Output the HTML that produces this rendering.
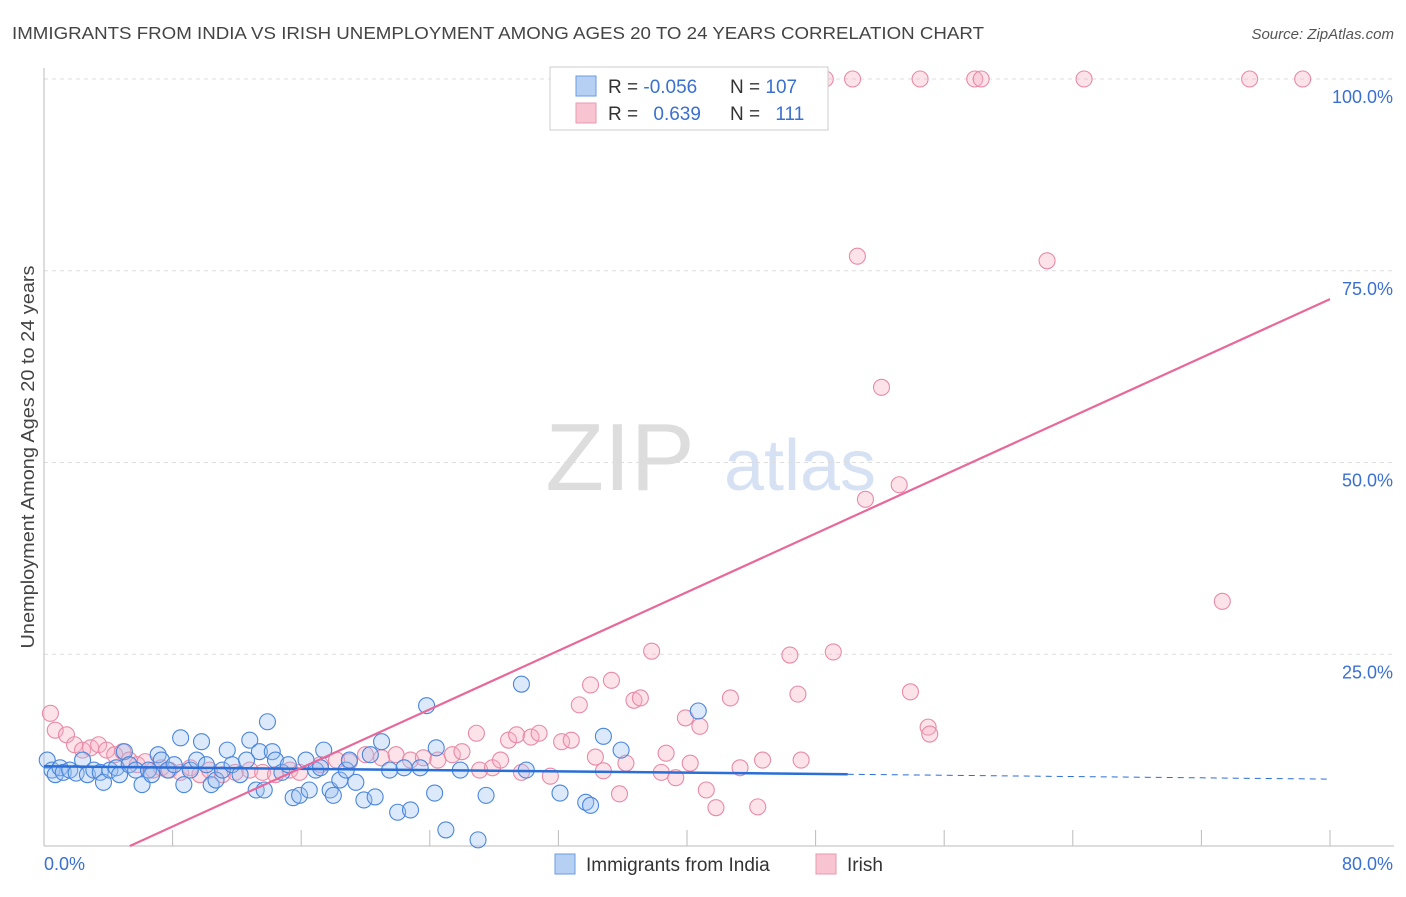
<!DOCTYPE html>
<html><head><meta charset="utf-8"><style>
body{margin:0;background:#fff;font-family:"Liberation Sans",sans-serif;}
svg text{font-family:"Liberation Sans",sans-serif;}
</style></head><body>
<svg id="chart" width="1406" height="892">
<text x="12" y="39" font-size="17.5" fill="#444" textLength="972" lengthAdjust="spacingAndGlyphs">IMMIGRANTS FROM INDIA VS IRISH UNEMPLOYMENT AMONG AGES 20 TO 24 YEARS CORRELATION CHART</text>
<text x="1394" y="39" font-size="15" fill="#555" font-style="italic" text-anchor="end">Source: ZipAtlas.com</text>
<text x="34" y="457" font-size="18" fill="#444" text-anchor="middle" textLength="383" lengthAdjust="spacingAndGlyphs" transform="rotate(-90 34 457)">Unemployment Among Ages 20 to 24 years</text>
<text x="620" y="490" font-size="96" fill="#ddd" font-family="Liberation Serif" text-anchor="middle">ZIP</text>
<text x="800" y="490" font-size="72" fill="#d6e2f4" text-anchor="middle">atlas</text>
<g id="grid"></g><g id="axes"></g><g id="pts"></g><g id="lines"></g>
<g>
<rect x="550" y="67" width="278" height="63" fill="#fff" stroke="#ccc"/>
<rect x="576" y="76" width="20" height="20" fill="#b6d0f4" stroke="#6a9be0"/>
<rect x="576" y="103" width="20" height="20" fill="#f8c4d2" stroke="#e89ab0"/>
<text x="608" y="93" font-size="19" fill="#333">R = <tspan fill="#3a70d0">-0.056</tspan></text>
<text x="730" y="93" font-size="19" fill="#333">N = <tspan fill="#3a70d0">107</tspan></text>
<text x="608" y="120" font-size="19" fill="#333">R = <tspan fill="#3a70d0" dx="10">0.639</tspan></text>
<text x="730" y="120" font-size="19" fill="#333">N = <tspan fill="#3a70d0" dx="10">111</tspan></text>
</g>
<g>
<rect x="555" y="854" width="20" height="20" fill="#b6d0f4" stroke="#6a9be0"/>
<text x="586" y="871" font-size="19" fill="#333">Immigrants from India</text>
<rect x="816" y="854" width="20" height="20" fill="#f8c4d2" stroke="#e89ab0"/>
<text x="847" y="871" font-size="19" fill="#333">Irish</text>
</g>
</svg>
<script>
const yTicks=[25,50,75,100];
const yTickLabels=["25.0%","50.0%","75.0%","100.0%"];
const blueX=[0.2,0.5,0.7,1.0,1.2,1.6,2.0,2.4,2.7,3.1,3.5,3.7,4.1,4.5,4.7,5.0,5.3,5.7,6.1,6.5,6.7,7.1,7.3,7.7,8.1,8.5,8.7,9.1,9.5,9.8,10.1,10.4,10.7,11.1,11.4,11.7,12.2,12.6,12.8,13.2,13.4,13.7,13.9,14.2,14.4,14.8,15.2,15.5,15.9,16.3,16.5,16.9,17.2,17.4,17.8,18.0,18.4,18.8,19.0,19.4,19.9,20.3,20.6,21.0,21.5,22.0,22.4,22.8,23.4,23.8,24.3,24.4,25.0,25.9,27.0,27.5,29.7,30.0,32.1,33.7,34.0,34.8,35.9,40.7];
const blueY=[11.2,9.9,9.3,10.2,9.6,9.9,9.5,11.2,9.3,9.9,9.6,8.3,9.9,10.2,9.3,12.3,10.6,9.9,8.0,9.9,9.3,11.9,11.2,9.9,10.6,14.1,8.0,9.9,11.2,13.6,10.6,8.0,8.6,9.9,12.5,10.6,9.3,11.2,13.8,7.3,12.3,7.3,16.2,12.3,11.2,9.6,10.6,6.3,6.6,11.2,7.3,9.9,10.2,12.5,7.3,6.6,8.6,9.9,11.2,8.3,6.0,11.9,6.4,13.6,9.9,4.4,10.2,4.7,10.2,18.3,6.9,12.8,2.1,9.9,0.8,6.6,21.1,9.9,6.9,5.7,5.3,14.3,12.5,17.6];
const pinkX=[0.4,0.7,1.4,1.9,2.4,2.9,3.4,3.9,4.4,4.9,5.3,5.8,6.3,6.8,7.3,7.8,8.5,9.1,9.7,10.3,11.1,11.9,12.8,13.6,14.4,15.3,15.9,17.2,18.2,19.0,20.0,21.0,21.9,22.8,23.6,24.5,25.4,26.0,26.9,27.1,27.9,28.4,28.9,29.4,29.7,30.3,30.8,31.5,32.2,32.8,33.3,34.0,34.3,34.8,35.3,35.8,36.2,36.7,37.1,37.8,38.4,38.7,39.3,39.9,40.2,40.8,41.2,41.8,42.7,43.3,44.4,44.7,46.4,46.9,47.1,49.1,50.6,51.1,52.1,53.2,53.9,55.0,55.1,62.4,73.3,48.1,48.6,50.3,54.5,57.9,58.3,64.7,75.0,78.3];
const pinkY=[17.3,15.1,14.5,13.2,12.5,12.8,13.2,12.5,11.9,12.3,11.2,10.6,11.0,9.9,10.2,9.9,9.6,10.2,9.3,9.9,9.3,9.6,9.9,9.6,9.3,9.9,9.6,10.6,11.2,11.0,11.9,11.5,11.9,11.2,11.5,11.2,11.9,12.3,14.7,9.9,10.2,11.2,13.8,14.5,9.6,14.2,14.7,9.1,13.6,13.8,18.4,21.0,11.6,9.8,21.6,6.8,10.8,19.0,19.3,25.4,9.6,12.1,8.9,16.7,10.8,15.6,7.3,5.0,19.3,10.2,5.1,11.2,24.9,19.8,11.2,25.3,76.9,45.2,59.8,47.1,20.1,15.5,14.6,76.3,31.9,100,100,100,100,100,100,100,100,100];
const blueTrend=[10.4,-0.021];
const pinkTrend=[-5.1,0.955];
const xs=v=>44+v/80*1286, ys=v=>846-v/100*767;
const NS="http://www.w3.org/2000/svg";
function mk(p,t,a){const e=document.createElementNS(NS,t);for(const k in a)e.setAttribute(k,a[k]);p.appendChild(e);return e;}
const grid=document.getElementById('grid'),axes=document.getElementById('axes');
yTicks.forEach((t,i)=>{
 const l=mk(grid,'line',{x1:44,x2:1394,y1:ys(t),y2:ys(t),stroke:'#ddd','stroke-dasharray':'4 4'});
 
 
 const tx=mk(axes,'text',{x:1393,y:ys(t)+24,'font-size':18,fill:'#3a70d0','text-anchor':'end'});
 tx.textContent=yTickLabels[i];
 
 
});
const ax=mk(axes,'line',{x1:44,x2:44,y1:68,y2:846,stroke:'#bbb'});


const bx=mk(axes,'line',{x1:44,x2:1394,y1:846,y2:846,stroke:'#bbb'});


for(let v=0;v<=80;v+=8){const t=mk(axes,'line',{x1:xs(v),x2:xs(v),y1:830,y2:846,stroke:'#bbb'});
 
 }
[["0.0%",44,'start'],["80.0%",1393,'end']].forEach(a=>{const t=mk(axes,'text',{x:a[1],y:870,'font-size':18,fill:'#3a70d0','text-anchor':a[2]});t.textContent=a[0];
 
 });
const pts=document.getElementById('pts');
function dots(X,Y,f,s,n){X.forEach((x,i)=>{const c=mk(pts,'circle',{cx:xs(x),cy:ys(Y[i]),r:8,fill:f,'fill-opacity':0.35,stroke:s,'stroke-width':1.1});
 
 });}
dots(pinkX,pinkY,'#f5b0c4','#e88aa6','irish-point');
dots(blueX,blueY,'#9cc0f0','#4a86dc','india-point');
const lines=document.getElementById('lines');
const bf=x=>blueTrend[0]+blueTrend[1]*x, pf=x=>pinkTrend[0]+pinkTrend[1]*x;
let l1=mk(lines,'line',{x1:xs(0),y1:ys(bf(0)),x2:xs(50),y2:ys(bf(50)),stroke:'#2a6ed8','stroke-width':2.5});


let l2=mk(lines,'line',{x1:xs(50),y1:ys(bf(50)),x2:xs(80),y2:ys(bf(80)),stroke:'#2a6ed8','stroke-width':1,'stroke-dasharray':'6 5'});


const x0=-pinkTrend[0]/pinkTrend[1];
let l3=mk(lines,'line',{x1:xs(x0),y1:ys(0),x2:xs(80),y2:ys(pf(80)),stroke:'#e8689a','stroke-width':2.2});


</script>
</body></html>
